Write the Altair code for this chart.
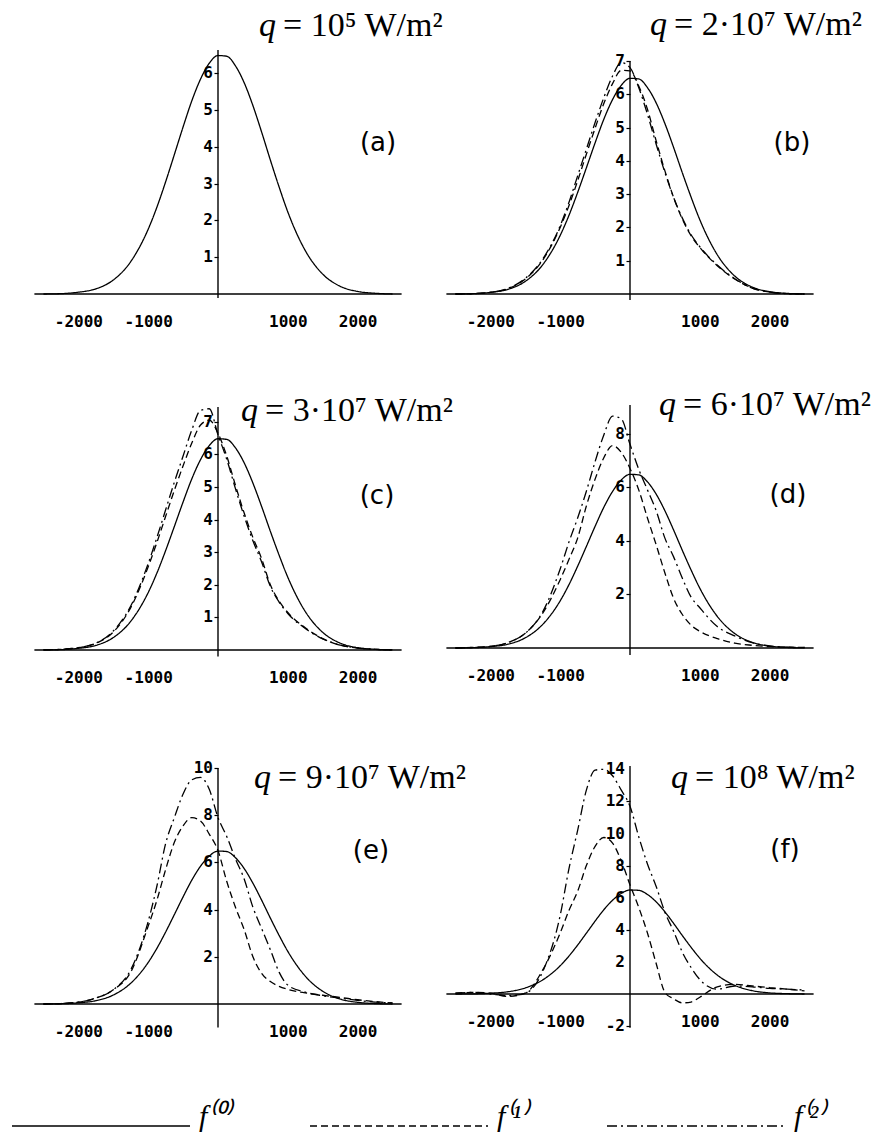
import altair as alt
import pandas as pd

# ---------------- data ----------------
X = [-2500, -2250, -2000, -1750, -1500, -1250, -1000, -875, -750, -625, -500, -375, -250, -125,
     0, 125, 250, 375, 500, 625, 750, 875, 1000, 1250, 1500, 1750, 2000, 2250, 2500]

F0 = [0.00, 0.01, 0.05, 0.14, 0.38, 0.88, 1.76, 2.36, 3.05, 3.79, 4.54, 5.25, 5.84, 6.27,
      6.48, 6.46, 6.20, 5.74, 5.12, 4.40, 3.64, 2.91, 2.23, 1.18, 0.54, 0.21, 0.07, 0.02, 0.00]

F1_B = [0.00, 0.01, 0.05, 0.16, 0.45, 1.02, 2.00, 2.65, 3.40, 4.20, 4.98, 5.72, 6.32, 6.72,
        6.70, 6.25, 5.55, 4.60, 3.70, 2.90, 2.25, 1.75, 1.40, 0.85, 0.45, 0.18, 0.06, 0.01, 0.00]
F2_B = [0.00, 0.01, 0.05, 0.17, 0.47, 1.05, 2.05, 2.75, 3.55, 4.35, 5.15, 5.90, 6.55, 6.95,
        6.80, 6.20, 5.40, 4.50, 3.65, 2.90, 2.28, 1.78, 1.42, 0.87, 0.46, 0.18, 0.06, 0.01, 0.00]

F1_C = [0.00, 0.02, 0.07, 0.20, 0.55, 1.30, 2.55, 3.30, 4.10, 4.90, 5.65, 6.35, 6.90, 7.05,
        6.65, 5.95, 5.05, 4.20, 3.45, 2.80, 2.00, 1.50, 1.15, 0.68, 0.35, 0.15, 0.06, 0.02, 0.00]
F2_C = [0.00, 0.02, 0.07, 0.21, 0.58, 1.35, 2.65, 3.45, 4.30, 5.15, 5.95, 6.75, 7.35, 7.40,
        6.60, 5.85, 4.95, 4.10, 3.35, 2.70, 1.95, 1.47, 1.12, 0.66, 0.34, 0.15, 0.06, 0.02, 0.00]

F1_D = [0.00, 0.02, 0.06, 0.20, 0.55, 1.30, 2.55, 3.30, 4.10, 5.30, 6.30, 7.10, 7.55, 7.30,
        6.70, 5.90, 4.85, 3.85, 2.80, 1.85, 1.25, 0.85, 0.62, 0.35, 0.18, 0.10, 0.05, 0.03, 0.02]
F2_D = [0.00, 0.02, 0.06, 0.20, 0.55, 1.35, 2.95, 3.95, 4.85, 5.85, 6.95, 7.95, 8.65, 8.55,
        7.60, 6.67, 5.90, 5.12, 4.10, 3.40, 2.60, 1.90, 1.50, 0.80, 0.45, 0.20, 0.08, 0.03, 0.02]

F1_E = [0.00, 0.02, 0.08, 0.25, 0.60, 1.35, 3.30, 4.40, 5.70, 6.85, 7.55, 7.90, 7.75, 7.20,
        6.50, 5.20, 4.10, 3.15, 2.00, 1.30, 0.95, 0.75, 0.62, 0.47, 0.37, 0.28, 0.18, 0.10, 0.05]
F2_E = [0.00, 0.02, 0.08, 0.25, 0.60, 1.45, 3.50, 5.00, 6.80, 7.90, 8.90, 9.50, 9.60, 9.10,
        7.90, 7.10, 6.15, 5.30, 4.10, 3.20, 2.30, 1.35, 0.80, 0.50, 0.35, 0.25, 0.15, 0.08, 0.04]

F1_F = [0.05, 0.10, 0.05, -0.15, 0.05, 1.50, 3.80, 5.20, 6.40, 8.00, 9.20, 9.75, 9.40, 8.30,
        6.80, 5.40, 3.80, 1.90, 0.10, -0.30, -0.55, -0.50, -0.20, 0.45, 0.60, 0.50, 0.40, 0.30, 0.20]
F2_F = [0.05, 0.10, 0.00, -0.10, 0.05, 1.40, 4.90, 7.80, 10.20, 12.70, 13.95, 14.00, 13.60, 12.70,
        11.70, 9.80, 8.10, 6.70, 5.10, 3.90, 2.60, 1.65, 0.90, 0.30, 0.50, 0.45, 0.35, 0.30, 0.25]

SERIES = ["f⁽⁰⁾", "f⁽¹⁾", "f⁽²⁾"]
XTICKS = [-2000, -1000, 1000, 2000]
TITLES = ["= 10⁵ W/m²", "= 2·10⁷ W/m²", "= 3·10⁷ W/m²", "= 6·10⁷ W/m²", "= 9·10⁷ W/m²", "= 10⁸ W/m²"]
LABELS = ["(a)", "(b)", "(c)", "(d)", "(e)", "(f)"]
CURVES = [[F0], [F0, F1_B, F2_B], [F0, F1_C, F2_C], [F0, F1_D, F2_D], [F0, F1_E, F2_E], [F0, F1_F, F2_F]]
YTICKS = [[1, 2, 3, 4, 5, 6], [1, 2, 3, 4, 5, 6, 7], [1, 2, 3, 4, 5, 6, 7], [2, 4, 6, 8],
          [2, 4, 6, 8, 10], [-2, 2, 4, 6, 8, 10, 12, 14]]
YDOM = [[-0.217, 6.63], [-0.24, 7.33], [-0.40, 7.515], [-0.56, 9.067], [-1.017, 10.085], [-2.118, 14.206]]
YAXIS_EXTENT = [[-0.11, 6.63], [-0.18, 7.0], [-0.2, 7.45], [-0.26, 9.07], [-1.0, 10.0], [-2.1, 14.2]]

# ---------------- layout ----------------
W = 370
XDOM = [-2650, 2650]
XRULE = [-2630, 2630]
HEIGHTS = [252, 252, 258, 258, 262, 262]
ZERO_PX = [244, 244, 245, 243, 238, 228]
EQ_POS = [(250, -14), (229, -15), (232, 16), (238, 10), (245, 22), (250, 22)]
LAB_POS = [(345, 93), (347, 93), (344, 91), (343, 90), (338, 85), (340, 84)]
TICK_FONT = "DejaVu Sans Mono"

dash_scale = alt.Scale(domain=SERIES, range=[[1, 0], [7, 4], [10, 4, 2, 4]])
legend = alt.Legend(
    title=None, orient="none", legendX=-22, legendY=986, direction="horizontal",
    symbolType="stroke", symbolSize=31684, symbolStrokeWidth=1.6, symbolStrokeColor="black",
    labelFont="Liberation Serif", labelFontStyle="italic", labelFontSize=30, labelColor="black",
    labelBaseline="alphabetic", labelOffset=8, columnPadding=74, padding=0,
)

ONE = pd.DataFrame({"k": [0]})


def panel(i):
    rows = []
    for s, ys in zip(SERIES, CURVES[i]):
        for x, y in zip(X, ys):
            rows.append({"x": x, "y": y, "series": s})
    df = pd.DataFrame(rows)
    H = HEIGHTS[i]
    xs = alt.Scale(domain=XDOM, nice=False, zero=False)
    ys = alt.Scale(domain=YDOM[i], nice=False, zero=False)
    xaxis = alt.Axis(values=XTICKS, offset=-(H - ZERO_PX[i]), domain=False, ticks=False, grid=False,
                     title=None, labelPadding=19, labelExpr="'' + datum.value", labelOverlap=False,
                     labelFlush=False)
    yaxis = alt.Axis(values=YTICKS[i], offset=-(W / 2), domain=False, ticks=True, tickSize=4,
                     grid=False, title=None, labels=False)
    lines = alt.Chart(df).mark_line(interpolate="monotone", color="black", strokeWidth=1.3).encode(
        x=alt.X("x:Q", scale=xs, axis=xaxis),
        y=alt.Y("y:Q", scale=ys, axis=yaxis),
        strokeDash=alt.StrokeDash("series:N", scale=dash_scale, legend=legend),
    )
    xr = alt.Chart(pd.DataFrame({"x": [XRULE[0]], "x2": [XRULE[1]], "y": [0]})).mark_rule(
        color="black", strokeWidth=1.4).encode(x=alt.X("x:Q", scale=xs), x2="x2:Q", y=alt.Y("y:Q", scale=ys))
    yr = alt.Chart(pd.DataFrame({"x": [0], "y": [YAXIS_EXTENT[i][0]], "y2": [YAXIS_EXTENT[i][1]]})).mark_rule(
        color="black", strokeWidth=1.4).encode(x=alt.X("x:Q", scale=xs), y=alt.Y("y:Q", scale=ys), y2="y2:Q")
    tdf = pd.DataFrame({"x": [0] * len(YTICKS[i]), "y": YTICKS[i], "t": [str(v) for v in YTICKS[i]]})
    ylab = alt.Chart(tdf).mark_text(align="right", baseline="middle", dx=-5, font=TICK_FONT,
                                    fontSize=16, fontWeight="bold", color="black").encode(
        x=alt.X("x:Q", scale=xs), y=alt.Y("y:Q", scale=ys), text="t:N")
    ex, ey = EQ_POS[i]
    qm = alt.Chart(ONE).mark_text(text="q", font="Liberation Serif", fontStyle="italic", fontSize=34,
                                  align="right", baseline="alphabetic", color="black").encode(
        x=alt.value(ex - 7), y=alt.value(ey))
    rest = alt.Chart(ONE).mark_text(text=TITLES[i], font="Liberation Serif", fontSize=34,
                                    align="left", baseline="alphabetic", color="black").encode(
        x=alt.value(ex), y=alt.value(ey))
    lx, ly = LAB_POS[i]
    lab = alt.Chart(ONE).mark_text(text=LABELS[i], font="DejaVu Sans", fontSize=26,
                                   align="center", baseline="middle", color="black").encode(
        x=alt.value(lx), y=alt.value(ly))
    return alt.layer(lines, xr, yr, ylab, qm, rest, lab).properties(width=W, height=H)


chart = (
    alt.concat(*[panel(i) for i in range(6)], columns=2,
               spacing=alt.RowColnumber(row=103, column=42), bounds="flush")
    .resolve_scale(strokeDash="shared")
    .resolve_legend(strokeDash="shared")
    .configure_view(stroke=None)
    .configure_axis(labelFont=TICK_FONT, labelFontSize=16, labelFontWeight="bold",
                    labelColor="black", tickColor="black", tickWidth=1.2)
    .properties(padding={"left": 3, "top": 0, "right": 0, "bottom": 0}, background="white")
)

chart.save("out.html", embed_options={"renderer": "svg", "actions": False})
